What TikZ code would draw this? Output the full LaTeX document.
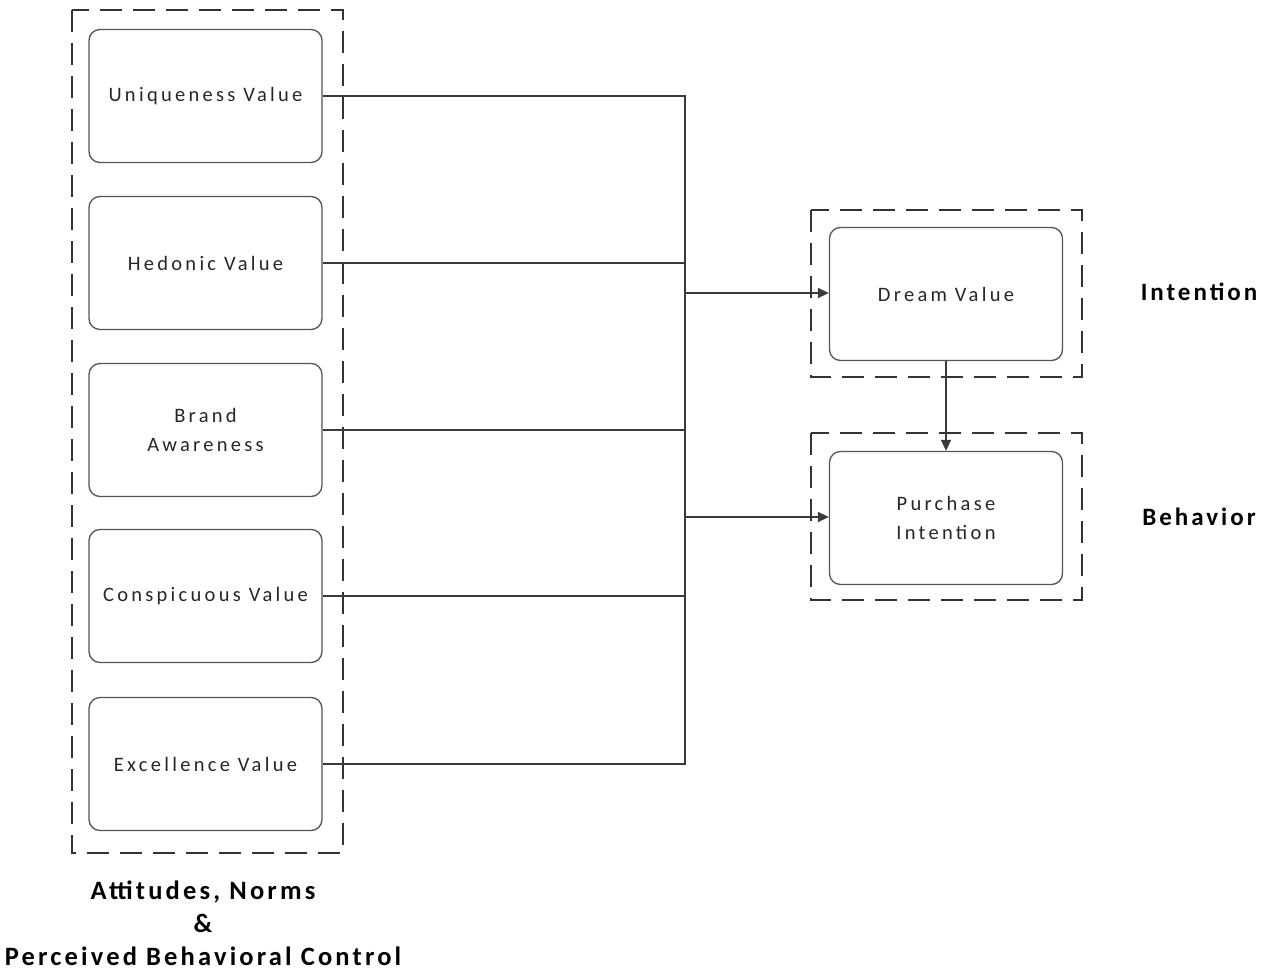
\documentclass[tikz,border=0pt]{standalone}
\usepackage{fontspec}
\setmainfont{Carlito}[LetterSpace=16]
\newfontfamily\tagfont{Carlito}[LetterSpace=12]
\usetikzlibrary{arrows.meta}
\definecolor{edge}{HTML}{3A3A3A}
\definecolor{boxline}{HTML}{555555}
\begin{document}
\begin{tikzpicture}[x=1pt,y=-1pt,
  valuebox/.style={draw=boxline,line width=1.3pt,rounded corners=11pt,
    minimum width=233pt,minimum height=133pt,align=center,
    font=\fontsize{20.5}{29}\selectfont,text=black!85,inner sep=0pt},
  groupbox/.style={draw=black!80,line width=1.2pt,dash pattern=on 22pt off 11pt},
  link/.style={draw=edge,line width=1.4pt},
  arr/.style={link,-{Triangle[length=11pt,width=10pt]}},
  tag/.style={font=\tagfont\bfseries\fontsize{25}{34}\selectfont,align=center,text=black}]
\useasboundingbox (0,0) rectangle (1278,971);

% dashed group frames
\draw[groupbox] (72,10) rectangle (343,853);
\draw[groupbox] (811,210) rectangle (1082,377);
\draw[groupbox] (811,433) rectangle (1082,600);

% antecedent boxes
\node[valuebox] (uniq) at (205.5,96) {Uniqueness Value};
\node[valuebox] (hedo) at (205.5,263) {Hedonic Value};
\node[valuebox] (brand) at (205.5,430) {Brand\\Awareness};
\node[valuebox] (consp) at (205.5,596) {Conspicuous Value};
\node[valuebox] (excel) at (205.5,764) {Excellence Value};

% outcome boxes
\node[valuebox] (dream) at (946,294) {Dream Value};
\node[valuebox] (purch) at (946,518) {Purchase\\Intention};

% collector bus
\coordinate (bt) at (685,96);
\coordinate (bb) at (685,764);
\coordinate (jd) at (685,293);
\coordinate (jp) at (685,517);

\draw[link] (uniq.east |- bt) -- (bt) -- (bb) -- (excel.east |- bb);
\draw[link] (hedo.east) -- (hedo.east -| bt);
\draw[link] (brand.east) -- (brand.east -| bt);
\draw[link] (consp.east) -- (consp.east -| bt);
\draw[arr] (jd) -- (dream.west |- jd);
\draw[arr] (jp) -- (purch.west |- jp);
\draw[arr] (dream.south) -- (purch.north);

% stage labels
\node[tag] (tint) at (1199,292) {Intention};
\node[tag] (tbeh) at (1199,517) {Behavior};
\node[tag,font=\tagfont\bfseries\fontsize{26.5}{33}\selectfont] (tatt) at (203,923)
  {Attitudes, Norms\\\&\\Perceived Behavioral Control};
\end{tikzpicture}
\end{document}
